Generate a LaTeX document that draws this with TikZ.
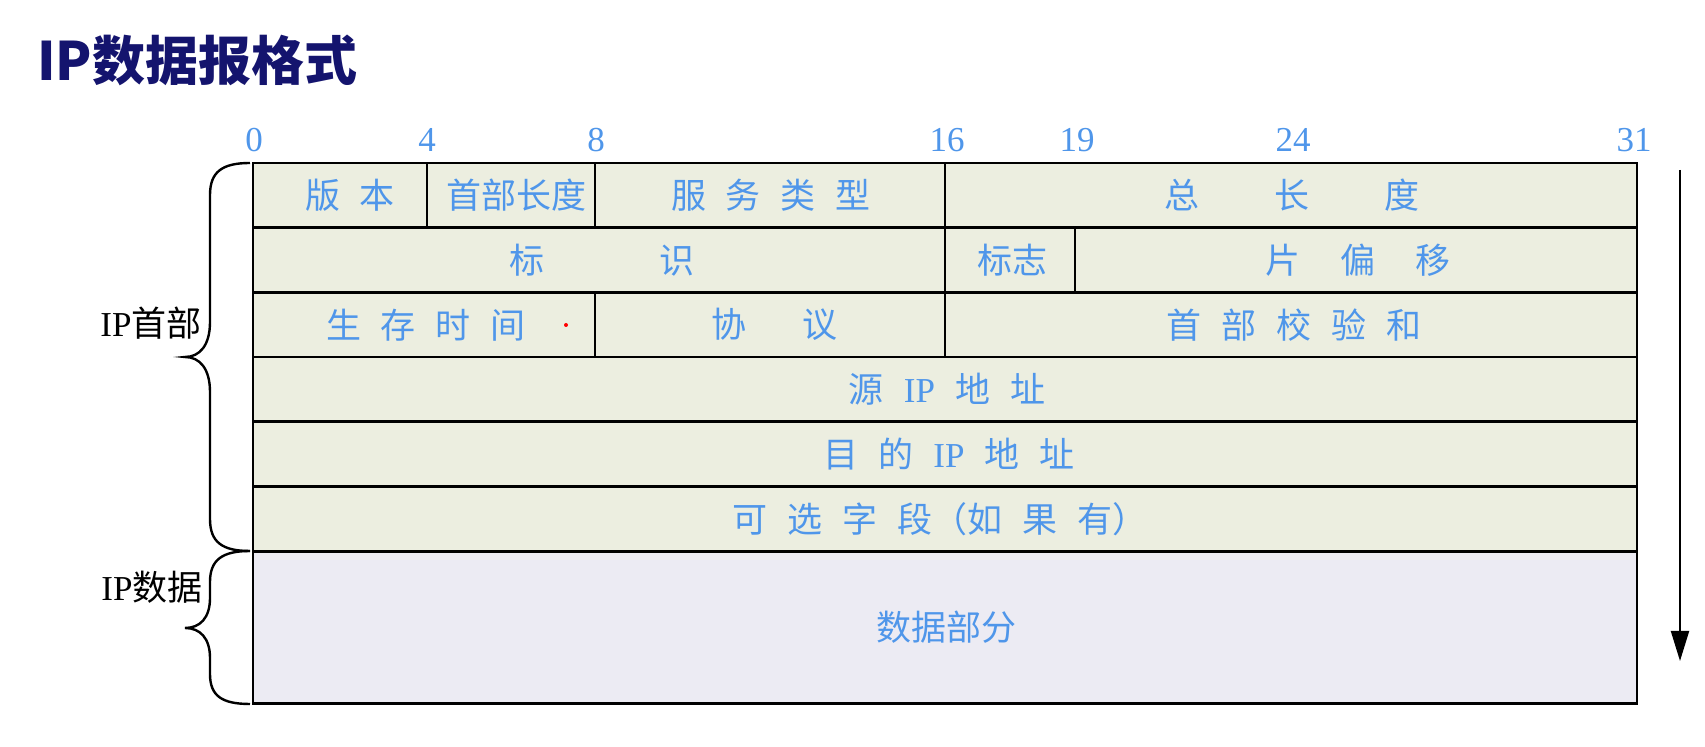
\documentclass[tikz,border=0pt]{standalone}
\usepackage{fontspec}
\setmainfont{Liberation Serif}
\newfontfamily\cjk{Noto Sans CJK SC}
\usetikzlibrary{arrows.meta}
\definecolor{bitblue}{HTML}{4F96EA}
\definecolor{hdrfill}{HTML}{ECEEE0}
\definecolor{datfill}{HTML}{ECEBF3}
\definecolor{navy}{HTML}{14146E}
\newcommand{\fgap}[1]{\hspace{#1}}

\begin{document}
\begin{tikzpicture}[>=Latex,x=0.5pt,y=-0.5pt,
  field/.style={text=bitblue,font=\cjk\fontsize{17.5}{20}\selectfont,inner sep=0pt},
  bitnum/.style={text=bitblue,font=\fontsize{17.5}{20}\selectfont,inner sep=0pt},
  side/.style={font=\fontsize{17.5}{20}\selectfont,inner sep=0pt},
  grid/.style={line width=1.4pt},
  brace/.style={line width=1.2pt}]
  \useasboundingbox (0,0) rectangle (1705,747);
  % Title
  \node[anchor=west,inner sep=0pt,text=navy,font=\cjk\bfseries\fontsize{26.5}{30}\selectfont] (title) at (37,60) {IP数据报格式};
  % Bit positions
  \foreach \b/\x in {0/254,4/427,8/596,16/947,19/1077,24/1293,31/1634}
    \node[bitnum] (b\b) at (\x,140) {\b};
  % Field backgrounds
  \fill[hdrfill] (253,163) rectangle (1637,551.2);
  \fill[datfill] (253,551.2) rectangle (1637,703.5);
  % Rows and column splits
  \foreach \y in {227.7,292.4,357.1,421.8,486.5,551.2}
    \draw[grid] (253,\y) -- (1637,\y);
  \draw[grid] (253,163) rectangle (1637,703.5);
  \draw[grid] (427,163) -- (427,227.7) (595,163) -- (595,227.7) (945,163) -- (945,357.1);
  \draw[grid] (1075,227.7) -- (1075,292.4);
  \draw[grid] (595,292.4) -- (595,357.1);
  % Field names
  \node[field] (ver) at (350,195.4) {版\fgap{10pt}本};
  \node[field] (hlen) at (516,195.4) {首部长度};
  \node[field] (tos) at (771,195.4) {服\fgap{10pt}务\fgap{10pt}类\fgap{10pt}型};
  \node[field] (totlen) at (1292,195.4) {总\fgap{37.5pt}长\fgap{37.5pt}度};
  \node[field] (ident) at (602,260.1) {标\fgap{57.5pt}识};
  \node[field] (flags) at (1012,260.1) {标志};
  \node[field] (fragoff) at (1358,260.1) {片\fgap{20pt}偏\fgap{20pt}移};
  \node[field] (ttl) at (426,324.8) {生\fgap{10pt}存\fgap{10pt}时\fgap{10pt}间};
  \node[field] (proto) at (774,324.8) {协\fgap{28pt}议};
  \node[field] (hsum) at (1294,324.8) {首\fgap{10pt}部\fgap{10pt}校\fgap{10pt}验\fgap{10pt}和};
  \node[field] (src) at (947,389.5) {源\fgap{10pt}{\rmfamily IP}\fgap{10pt}地\fgap{10pt}址};
  \node[field] (dst) at (949,454.2) {目\fgap{10pt}的\fgap{10pt}{\rmfamily IP}\fgap{10pt}地\fgap{10pt}址};
  \node[field] (opt) at (940,518.9) {可\fgap{10pt}选\fgap{10pt}字\fgap{10pt}段（如\fgap{10pt}果\fgap{10pt}有）};
  \node[field] (data) at (946,627.4) {数据部分};
  \fill[red] (566,325) circle (2);
  % Braces
  \draw[brace] (250,163) .. controls (222,163) and (210,172) .. (210,195)
    -- (210,322) .. controls (210,345) and (200,357) .. (185,357)
    .. controls (200,357) and (210,369) .. (210,392)
    -- (210,519) .. controls (210,542) and (222,551) .. (250,551);
  \draw[brace] (250,551) .. controls (222,551) and (210,560) .. (210,582)
    -- (210,598) .. controls (210,618) and (200,628) .. (185,628)
    .. controls (200,628) and (210,638) .. (210,658)
    -- (210,674) .. controls (210,696) and (222,704) .. (250,704);
  \node[side] (hdrlbl) at (151,323) {IP{\cjk 首部}};
  \node[side] (datlbl) at (152,587) {IP{\cjk 数据}};
  % Direction of transmission
  \coordinate (arrtop) at (1680,170);
  \coordinate (arrbot) at (1680,661);
  \draw[line width=1pt,-{Triangle[width=9pt,length=15pt]}] (arrtop) -- (arrbot);
\end{tikzpicture}
\end{document}
